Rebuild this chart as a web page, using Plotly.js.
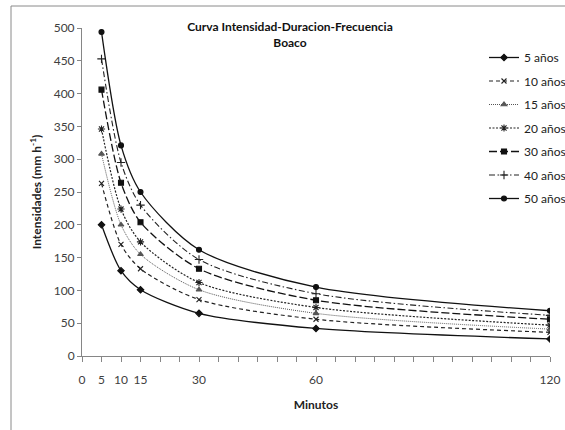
<!DOCTYPE html>
<html>
<head>
<meta charset="utf-8">
<script src="https://cdn.plot.ly/plotly-3.0.1.min.js"></script>
<style>
  html, body { margin: 0; padding: 0; background: #fff; }
  #chart { width: 565px; height: 430px; }
</style>
</head>
<body>
<div id="chart"></div>
<script>
// Duration (minutes)
const minutes = [5, 10, 15, 30, 60, 120];

// Intensity (mm/h) per return period
const i5  = [200, 130, 101, 65, 42, 26];
const i10 = [263, 170, 133, 86, 56, 36];
const i15 = [308, 200, 155, 101, 65, 41];
const i20 = [346, 224, 174, 112, 74, 47];
const i30 = [406, 264, 204, 133, 85, 56];
const i40 = [453, 295, 230, 147, 95, 62];
const i50 = [494, 321, 250, 162, 105, 69];

const seriesNames = ['5 años', '10 años', '15 años', '20 años', '30 años', '40 años', '50 años'];

// Labelled minute ticks (unlabelled minor ticks every 5 minutes)
const labelledMinutes = [0, 5, 10, 15, 30, 60, 120];

const styles = [
  { dash: 'solid',                 color: '#111', width: 1.3, symbol: 'diamond',         msize: 5 },
  { dash: '4px,3px',               color: '#222', width: 1.2, symbol: 'x-thin-open',     msize: 5 },
  { dash: '1px,1px',               color: '#555', width: 1.0, symbol: 'triangle-up',     msize: 5 },
  { dash: '2px,1.5px',             color: '#222', width: 1.2, symbol: 'asterisk-open',   msize: 6 },
  { dash: '8px,3px',               color: '#111', width: 1.3, symbol: 'square',          msize: 5 },
  { dash: '6px,2.5px,1.5px,2.5px', color: '#222', width: 1.1, symbol: 'cross-thin-open', msize: 6 },
  { dash: 'solid',                 color: '#111', width: 1.3, symbol: 'circle',          msize: 5 }
];

const values = [i5, i10, i15, i20, i30, i40, i50];

const traces = values.map((v, k) => ({
  x: minutes,
  y: v,
  name: seriesNames[k],
  legendgroup: 'g' + k,
  type: 'scatter',
  mode: 'lines+markers',
  line: { shape: 'spline', smoothing: 0.8, dash: styles[k].dash, color: styles[k].color, width: styles[k].width },
  marker: { symbol: styles[k].symbol, size: styles[k].msize, color: styles[k].color,
            line: { color: styles[k].color, width: 1.1 } }
}));

// pixel -> paper helpers for placing the frame, title and legend
const L = 82, R = 550, T = 28, B = 356;
const px = p => (p - L) / (R - L);
const py = p => (B - p) / (B - T);

const layout = {
  width: 565,
  height: 430,
  margin: { l: 82, r: 15, t: 28, b: 74, autoexpand: false },
  paper_bgcolor: '#fff',
  plot_bgcolor: '#fff',
  font: { family: 'Lato, "Noto Sans", sans-serif', size: 12, color: '#404040' },
  showlegend: true,
  title: {
    text: '<b>Curva Intensidad-Duracion-Frecuencia</b><br><b>Boaco</b>',
    font: { family: 'Lato, "Noto Sans", sans-serif', size: 12, color: '#111' },
    xref: 'paper', x: px(290), xanchor: 'center',
    yref: 'container', y: 1 - 31 / 430, yanchor: 'middle'
  },
  xaxis: {
    range: [0, 120],
    tickmode: 'array',
    tickvals: labelledMinutes,
    ticktext: labelledMinutes.map(String),
    ticks: 'outside', ticklen: 5, tickcolor: '#868686', tickwidth: 1,
    minor: { tickmode: 'linear', tick0: 0, dtick: 5, ticks: 'outside', ticklen: 5,
             tickcolor: '#868686', tickwidth: 1, showgrid: false },
    ticklabelstandoff: 8,
    showline: true, linecolor: '#868686', linewidth: 1,
    showgrid: false, zeroline: false,
    tickfont: { size: 12, color: '#404040' },
    title: { text: '<b>Minutos</b>', font: { size: 12, color: '#222' }, standoff: 14 }
  },
  yaxis: {
    range: [0, 500],
    tickmode: 'linear', tick0: 0, dtick: 50,
    ticks: 'outside', ticklen: 4, tickcolor: '#868686', tickwidth: 1,
    showline: true, linecolor: '#868686', linewidth: 1,
    showgrid: false, zeroline: false,
    tickfont: { size: 12, color: '#404040' },
    title: { text: '<b>Intensidades (mm h<sup>-1</sup>)</b>', font: { size: 12, color: '#222' }, standoff: 9 }
  },
  legend: {
    x: px(484), xanchor: 'left',
    y: py(43), yanchor: 'top',
    bgcolor: 'rgba(0,0,0,0)',
    font: { size: 12, color: '#222' },
    itemwidth: 30,
    tracegroupgap: 4.5
  },
  shapes: [
    { type: 'line', xref: 'paper', yref: 'paper', x0: px(11), x1: px(11), y0: py(6), y1: py(440),
      line: { color: '#8a8a8a', width: 1 } },
    { type: 'line', xref: 'paper', yref: 'paper', x0: px(11), x1: px(580), y0: py(6), y1: py(6),
      line: { color: '#8a8a8a', width: 1 } }
  ]
};

Plotly.newPlot('chart', traces, layout, { staticPlot: true, displayModeBar: false });
</script>
</body>
</html>
